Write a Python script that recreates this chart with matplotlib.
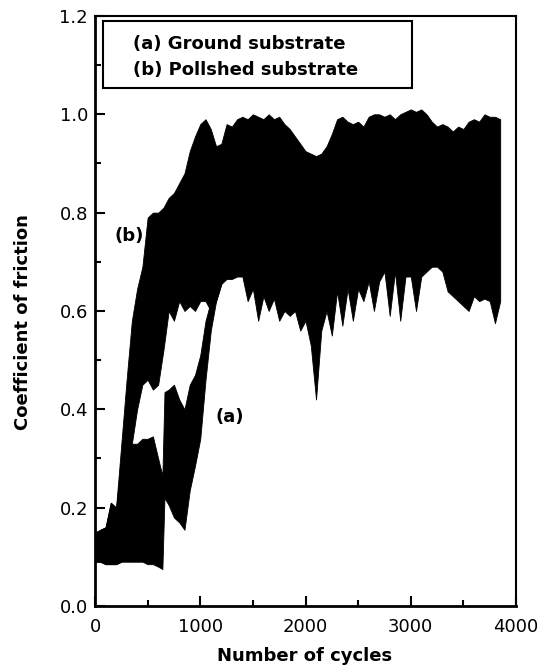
import numpy as np
import matplotlib.pyplot as plt
from matplotlib.patches import Rectangle

# polished substrate (b): envelope of the friction trace, every 50 cycles
cycles_b = list(range(0, 3900, 50))
b_upper = [0.15, 0.155, 0.16, 0.21, 0.20, 0.33, 0.46, 0.58, 0.645, 0.69,
           0.79, 0.80, 0.80, 0.81, 0.83, 0.84, 0.86, 0.88, 0.925, 0.955,
           0.98, 0.99, 0.97, 0.935, 0.94, 0.98, 0.975, 0.99, 0.995, 0.99,
           1.0, 0.995, 0.99, 1.0, 0.99, 0.995, 0.98, 0.97, 0.955, 0.94,
           0.925, 0.92, 0.915, 0.92, 0.935, 0.96, 0.99, 0.995, 0.985, 0.98,
           0.985, 0.975, 0.995, 1.0, 1.0, 0.995, 1.0, 0.99, 1.0, 1.005,
           1.01, 1.005, 1.01, 1.0, 0.985, 0.975, 0.98, 0.975, 0.965, 0.975,
           0.97, 0.985, 0.99, 0.985, 1.0, 0.995, 0.995, 0.99]
b_lower = [0.09, 0.09, 0.085, 0.085, 0.085, 0.09, 0.20, 0.33, 0.40, 0.45,
           0.46, 0.44, 0.45, 0.52, 0.60, 0.58, 0.62, 0.60, 0.61, 0.60,
           0.62, 0.62, 0.60, 0.62, 0.655, 0.665, 0.665, 0.67, 0.67, 0.62,
           0.645, 0.58, 0.63, 0.60, 0.625, 0.58, 0.60, 0.59, 0.60, 0.56,
           0.58, 0.53, 0.42, 0.56, 0.60, 0.55, 0.64, 0.57, 0.645, 0.58,
           0.645, 0.62, 0.66, 0.60, 0.66, 0.68, 0.59, 0.68, 0.58, 0.67,
           0.67, 0.60, 0.67, 0.68, 0.69, 0.69, 0.68, 0.64, 0.63, 0.62,
           0.61, 0.60, 0.63, 0.62, 0.625, 0.62, 0.575, 0.62]

# ground substrate (a): envelope until it merges with (b)
cycles_a = [0, 50, 100, 150, 200, 250, 300, 350, 400, 450, 500, 550, 600,
            640, 660, 700, 750, 800, 850, 900, 950, 1000, 1050, 1100, 1150, 1200]
a_upper = [0.14, 0.155, 0.16, 0.21, 0.20, 0.30, 0.33, 0.33, 0.33, 0.34,
           0.34, 0.345, 0.30, 0.265, 0.435, 0.44, 0.45, 0.42, 0.40, 0.45,
           0.47, 0.51, 0.58, 0.62, 0.64, 0.66]
a_lower = [0.09, 0.09, 0.085, 0.085, 0.085, 0.09, 0.09, 0.09, 0.09, 0.09,
           0.085, 0.085, 0.08, 0.075, 0.22, 0.205, 0.18, 0.17, 0.155, 0.235,
           0.285, 0.34, 0.46, 0.56, 0.62, 0.655]

legend_lines = ["(a) Ground substrate", "(b) Pollshed substrate"]

plt.rcParams['font.family'] = 'DejaVu Sans'

fig = plt.figure(figsize=(5.38, 6.67), dpi=100)
ax = fig.add_axes([0.1766, 0.0915, 0.7825, 0.8846])

ax.fill_between(cycles_b, b_lower, b_upper, color="black", lw=0.6)
ax.fill_between(cycles_a, a_lower, a_upper, color="black", lw=0.6)

ax.set_xlim(0, 4000)
ax.set_ylim(0, 1.2)
ax.set_xticks([0, 1000, 2000, 3000, 4000])
ax.set_xticks([500, 1500, 2500, 3500], minor=True)
ax.set_yticks([0.0, 0.2, 0.4, 0.6, 0.8, 1.0, 1.2])
ax.set_yticks([0.1, 0.3, 0.5, 0.7, 0.9, 1.1], minor=True)
ax.yaxis.set_major_formatter(plt.FormatStrFormatter('%.1f'))

ax.tick_params(which="both", direction="in", width=1.5, labelsize=13)
ax.tick_params(which="major", length=7)
ax.tick_params(which="minor", length=4.5)
ax.tick_params(axis="x", pad=9)
ax.tick_params(axis="y", pad=5)
for side in ["left", "bottom"]:
    ax.spines[side].set_linewidth(2)
for side in ["top", "right"]:
    ax.spines[side].set_linewidth(1.5)

# legend box (text only)
ax.add_patch(Rectangle((0.019, 0.878), 0.734, 0.1135, transform=ax.transAxes,
                       fill=False, lw=1.5, ec="black"))
ax.text(0.09, 0.9525, legend_lines[0], transform=ax.transAxes,
        fontsize=13, fontweight="bold", va="center")
ax.text(0.09, 0.9085, legend_lines[1], transform=ax.transAxes,
        fontsize=13, fontweight="bold", va="center")

ax.text(323, 0.753, "(b)", fontsize=13, fontweight="bold", ha="center", va="center")
ax.text(1283, 0.384, "(a)", fontsize=13, fontweight="bold", ha="center", va="center")

fig.text(23 / 538, 1 - 322 / 667, "Coefficient of friction", rotation=90,
         fontsize=13, fontweight="bold", ha="center", va="center")
fig.text(305 / 538, 0.009, "Number of cycles", fontsize=13, fontweight="bold",
         ha="center", va="baseline")

plt.savefig("out.png", dpi=100)
